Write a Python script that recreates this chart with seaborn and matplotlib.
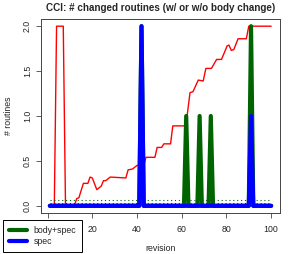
import numpy as np
import pandas as pd
import matplotlib
matplotlib.use("Agg")
import matplotlib.pyplot as plt
import seaborn as sns

# red line (revision, value)
red_rev = [1, 3, 4, 7, 8, 12, 13, 14, 16, 18, 19, 20, 22, 24, 25, 26, 28, 35, 36, 38,
           40, 43, 44, 48, 49, 51, 52, 55, 56, 61.5, 62.5, 63.7, 65, 67.4, 69.6, 70.8,
           73.3, 75.6, 77.8, 80.3, 81.1, 82.2, 83.3, 85.2, 88.9, 90, 100]
red_val = [0, 0, 2, 2, 0, 0, 0.08, 0.09, 0.25, 0.25, 0.32, 0.31, 0.18, 0.22, 0.28, 0.28,
           0.32, 0.31, 0.40, 0.41, 0.45, 0.45, 0.54, 0.54, 0.65, 0.65, 0.69, 0.69, 0.89,
           0.89, 1.02, 1.26, 1.27, 1.40, 1.39, 1.53, 1.53, 1.63, 1.63, 1.78, 1.79, 1.73,
           1.74, 1.86, 1.86, 2.0, 2.0]

revisions = list(range(1, 101))
# non-zero counts per revision
body_spec_hits = {42: 2, 62: 1, 68: 1, 73: 1, 91: 2}
spec_hits = {42: 2, 91: 1}

body_spec = [body_spec_hits.get(r, 0) for r in revisions]
spec = [spec_hits.get(r, 0) for r in revisions]

x_ticks = [0, 20, 40, 60, 80, 100]
x_labels = ["", "20", "40", "60", "80", "100"]  # "0" sits under the legend
y_ticks = [0, 0.5, 1.0, 1.5, 2.0]
y_labels = ["0.0", "0.5", "1.0", "1.5", "2.0"]

df = pd.DataFrame({"revision": revisions, "body+spec": body_spec, "spec": spec})
red = pd.DataFrame({"revision": red_rev, "value": red_val})

sns.set_style("ticks")
plt.rcParams["font.family"] = ["Liberation Sans", "DejaVu Sans"]
plt.rcParams["font.size"] = 6.3

fig = plt.figure(figsize=(2.94, 2.54), dpi=100)
ax = fig.add_axes([41 / 294, 1 - 213 / 254, 239 / 294, 194 / 254])

sns.lineplot(data=red, x="revision", y="value", color="red", lw=1.0, ax=ax)

# dotted mean lines
ax.plot([1, 100], [np.mean(body_spec)] * 2, color="darkgreen", lw=0.8, ls=(0, (1, 2.5)))
ax.plot([1, 100], [np.mean(spec)] * 2, color="blue", lw=0.8, ls=(0, (1, 2.5)))

sns.lineplot(data=df, x="revision", y="body+spec", color="darkgreen", lw=3,
             ax=ax, label="body+spec")
sns.lineplot(data=df, x="revision", y="spec", color="blue", lw=3, ax=ax, label="spec")

ax.set_xlim(-2.96, 103.96)
ax.set_ylim(-0.08, 2.08)
ax.set_xticks(x_ticks)
ax.set_xticklabels(x_labels)
ax.set_yticks(y_ticks)
ax.set_yticklabels(y_labels, rotation=90, va="center")
ax.tick_params(length=3.6, width=0.6, color="#444444", labelsize=6.3, pad=3)
ax.tick_params(axis="x", pad=5)
for s in ax.spines.values():
    s.set_visible(True)
    s.set_linewidth(0.7)
    s.set_color("#444444")

ax.set_xlabel("revision", fontsize=6.3, labelpad=7)
ax.set_ylabel("# routines", fontsize=6.3, labelpad=7)
ax.set_title("CCI: # changed routines (w/ or w/o body change)", fontsize=7.1,
             fontweight="bold", pad=6)

leg = ax.legend(loc="lower left", bbox_to_anchor=(3 / 294, 2 / 254),
                bbox_transform=fig.transFigure, fontsize=6.3, fancybox=False,
                framealpha=1, edgecolor="black", handlelength=2.0, borderpad=0.7,
                labelspacing=0.2, handletextpad=0.8, borderaxespad=0)
leg.get_frame().set_linewidth(0.7)
leg.set_zorder(10)

fig.savefig("out.png", dpi=100)
